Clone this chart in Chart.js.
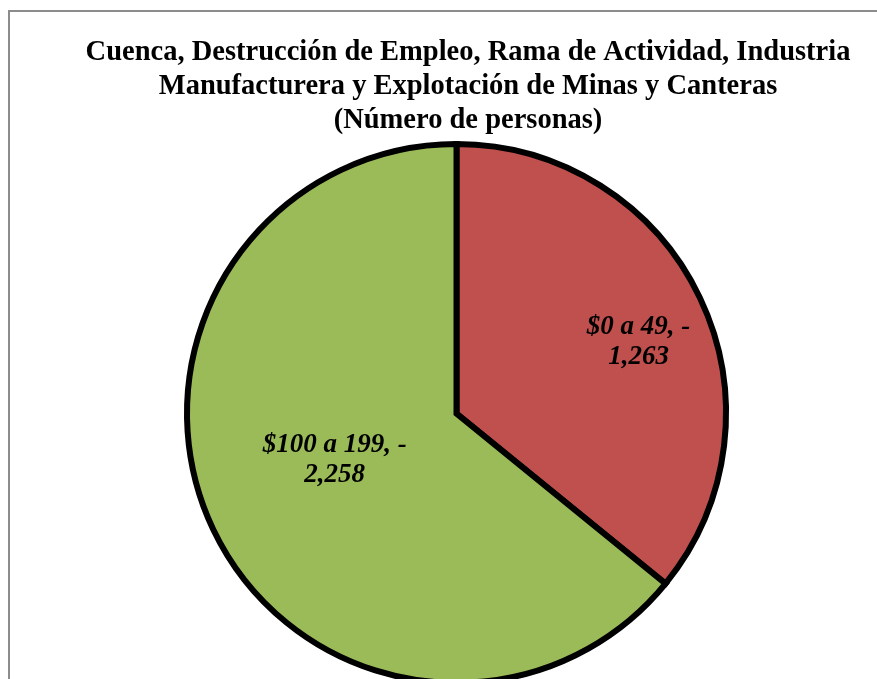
<!DOCTYPE html>
<html lang="es">
<head>
<meta charset="utf-8">
<script src="https://cdn.jsdelivr.net/npm/chart.js@4"></script>
<style>
  html, body { margin: 0; padding: 0; background: #fff; overflow: hidden; }
  #marco { position: absolute; left: 8px; top: 10px; width: 900px; height: 800px; border: 2px solid #8c8c8c; }
  #grafico { position: absolute; left: 0; top: 0; }
</style>
</head>
<body>
<div id="marco"></div>
<canvas id="grafico" width="877" height="720"></canvas>
<script>
// datos
const tituloLineas = [
  'Cuenca, Destrucción de Empleo, Rama de Actividad, Industria',
  'Manufacturera y Explotación de Minas y Canteras',
  '(Número de personas)'
];
const categorias = ['$0 a 49', '$100 a 199'];
const personas = [1263, 2258];
const colores = ['#C0504D', '#9BBB59'];

// titulo centrado sobre el marco (no sobre la torta)
const tituloPlugin = {
  id: 'tituloMarco',
  afterDraw(chart, args, opts) {
    const ctx = chart.ctx;
    ctx.save();
    ctx.font = 'bold 28.5px "Liberation Serif", "Times New Roman", serif';
    ctx.fillStyle = '#000';
    ctx.textAlign = 'center';
    ctx.textBaseline = 'middle';
    tituloLineas.forEach((linea, i) => {
      ctx.fillText(linea, opts.x, opts.y + i * opts.paso);
    });
    ctx.restore();
  }
};

// etiquetas dentro de cada porcion
const etiquetasPlugin = {
  id: 'etiquetas',
  afterDatasetsDraw(chart, args, opts) {
    const ctx = chart.ctx;
    const meta = chart.getDatasetMeta(0);
    ctx.save();
    ctx.font = 'italic bold 27px "Liberation Serif", "Times New Roman", serif';
    ctx.fillStyle = '#000';
    ctx.textAlign = 'center';
    ctx.textBaseline = 'middle';
    meta.data.forEach((arco, i) => {
      const p = arco.getProps(['x', 'y', 'startAngle', 'endAngle', 'outerRadius'], true);
      const medio = (p.startAngle + p.endAngle) / 2;
      const r = p.outerRadius * opts.distancias[i];
      const x = p.x + Math.cos(medio) * r + opts.ajustes[i][0];
      const y = p.y + Math.sin(medio) * r + opts.ajustes[i][1];
      const lineas = [categorias[i] + ', -', personas[i].toLocaleString('en-US')];
      ctx.fillText(lineas[0], x, y - 15);
      ctx.fillText(lineas[1], x, y + 15);
    });
    ctx.restore();
  }
};

new Chart(document.getElementById('grafico'), {
  type: 'pie',
  data: {
    labels: categorias,
    datasets: [{
      data: personas,
      backgroundColor: colores,
      borderColor: '#000',
      borderWidth: 6,
      borderJoinStyle: 'miter'
    }]
  },
  options: {
    responsive: false,
    animation: false,
    layout: { padding: { top: 141, bottom: 34, left: 184, right: 148 } },
    plugins: {
      legend: { display: false },
      tooltip: { enabled: false },
      tituloMarco: { x: 468, y: 52.5, paso: 34 },
      etiquetas: { distancias: [0.74, 0.48], ajustes: [[2, 14], [-5, -9]] }
    }
  },
  plugins: [tituloPlugin, etiquetasPlugin]
});
</script>
</body>
</html>
